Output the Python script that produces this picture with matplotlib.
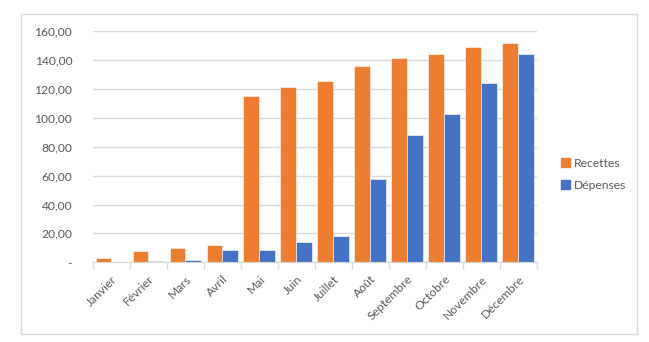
import matplotlib
matplotlib.use("Agg")
from matplotlib import pyplot as plt
from matplotlib.patches import Rectangle, Patch
from matplotlib.ticker import FuncFormatter, FixedLocator
import numpy as np

plt.rcParams['font.family'] = ['Lato', 'DejaVu Sans']

# données mensuelles
mois = ["Janvier", "Février", "Mars", "Avril", "Mai", "Juin", "Juillet",
        "Août", "Septembre", "Octobre", "Novembre", "Décembre"]
recettes = [3.2, 8.0, 10.1, 12.0, 115.3, 121.3, 125.4, 135.8, 141.3, 144.1, 149.1, 151.9]
depenses = [0.0, 0.9, 1.8, 8.5, 8.5, 14.0, 18.2, 57.4, 88.3, 102.6, 124.2, 144.1]

orange = "#ED7D31"
bleu = "#4472C4"
gris_txt = "#595959"
gris_ligne = "#D9D9D9"

fig = plt.figure(figsize=(6.49, 3.42), dpi=100)

# cadre du graphique
fig.patches.append(Rectangle((0.0324, 0.0234), 0.949, 0.936, transform=fig.transFigure,
                             fill=False, edgecolor=gris_ligne, linewidth=1.0))

ax = fig.add_axes([0.1433, 0.233, 0.6837, 0.676])

x = np.arange(len(mois))
w = 0.43
ax.bar(x - w / 2, recettes, w, color=orange, edgecolor="white", linewidth=0.4, zorder=3)
ax.bar(x + w / 2, depenses, w, color=bleu, edgecolor="white", linewidth=0.4, zorder=3)

ax.set_xlim(-0.5, len(mois) - 0.5)
ax.set_ylim(0, 160)
ax.set_yticks(np.arange(0, 161, 20))
ax.yaxis.set_major_formatter(FuncFormatter(
    lambda v, p: "-" if v == 0 else f"{v:.2f}".replace(".", ",")))
ax.grid(axis="y", color=gris_ligne, linewidth=1.0, zorder=0)

for s in ["top", "right", "left"]:
    ax.spines[s].set_visible(False)
ax.spines["bottom"].set_color(gris_ligne)
ax.spines["bottom"].set_zorder(4)

ax.set_xticks(x)
ax.set_xticklabels(mois, rotation=45, ha="right", rotation_mode="anchor")
ax.tick_params(axis="x", which="major", length=0, pad=8, labelsize=8.7, labelcolor=gris_txt)
ax.xaxis.set_minor_locator(FixedLocator(np.arange(-0.5, len(mois), 1.0)))
ax.tick_params(axis="x", which="minor", length=5, color=gris_ligne, width=1.0)
ax.tick_params(axis="y", length=0, pad=15, labelsize=8.7, labelcolor=gris_txt)

handles = [Patch(color=orange), Patch(color=bleu)]
fig.legend(handles, ["Recettes", "Dépenses"], loc="center left",
           bbox_to_anchor=(0.847, 0.49), frameon=False, fontsize=8.7,
           handlelength=0.8, handleheight=0.8, handletextpad=0.3,
           labelspacing=0.9, labelcolor=gris_txt)

fig.savefig("out.png", dpi=100)
